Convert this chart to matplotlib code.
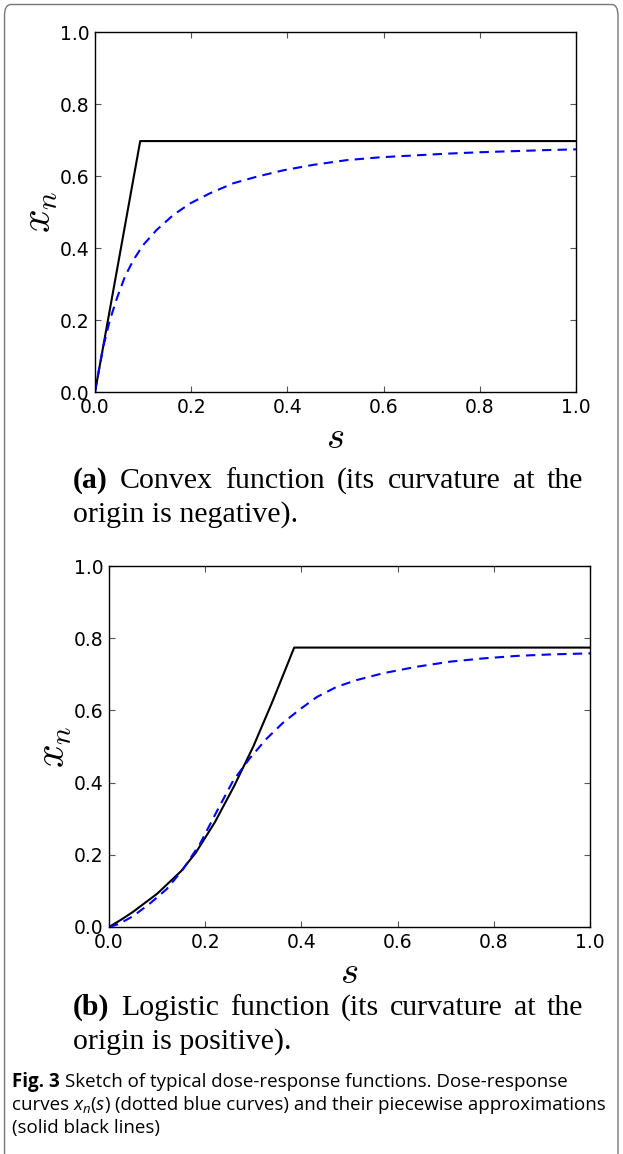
import matplotlib
matplotlib.use("Agg")
import matplotlib.pyplot as plt
from matplotlib.patches import FancyBboxPatch

W, H = 623, 1154

# (a) convex dose-response curve and its piecewise approximation
a_s_curve = [0, 0.008, 0.017, 0.031, 0.046, 0.062, 0.080, 0.100, 0.128, 0.163, 0.198,
             0.239, 0.288, 0.336, 0.392, 0.454, 0.523, 0.593, 0.662, 0.731, 0.800,
             0.870, 0.939, 1.0]
a_x_curve = [0, 0.060, 0.125, 0.200, 0.262, 0.320, 0.367, 0.408, 0.450, 0.492, 0.524,
             0.552, 0.580, 0.598, 0.616, 0.631, 0.644, 0.652, 0.657, 0.662, 0.666,
             0.669, 0.672, 0.674]
a_s_line = [0, 0.094, 1.0]
a_x_line = [0, 0.697, 0.697]

# (b) logistic dose-response curve and its piecewise approximation
b_s_curve = [0, 0.020, 0.050, 0.085, 0.120, 0.154, 0.189, 0.224, 0.258, 0.293, 0.328,
             0.362, 0.397, 0.432, 0.473, 0.515, 0.570, 0.640, 0.709, 0.778, 0.848,
             0.917, 1.0]
b_x_curve = [0, 0.008, 0.030, 0.065, 0.105, 0.160, 0.230, 0.320, 0.405, 0.468, 0.522,
             0.566, 0.603, 0.637, 0.665, 0.684, 0.703, 0.721, 0.735, 0.744, 0.751,
             0.755, 0.758]
b_s_line = [0, 0.025, 0.050, 0.100, 0.150, 0.180, 0.220, 0.260, 0.300, 0.340, 0.385, 1.0]
b_x_line = [0, 0.020, 0.042, 0.092, 0.155, 0.205, 0.290, 0.390, 0.500, 0.625, 0.774, 0.774]

ticks = [0.0, 0.2, 0.4, 0.6, 0.8, 1.0]
tick_labels = ["0.0", "0.2", "0.4", "0.6", "0.8", "1.0"]

cap_a = [("(a)", "bold"), ("Convex", "normal"), ("function", "normal"), ("(its", "normal"),
         ("curvature", "normal"), ("at", "normal"), ("the", "normal")]
cap_a2 = "origin is negative)."
cap_b = [("(b)", "bold"), ("Logistic", "normal"), ("function", "normal"), ("(its", "normal"),
         ("curvature", "normal"), ("at", "normal"), ("the", "normal")]
cap_b2 = "origin is positive)."

plt.rcParams["mathtext.fontset"] = "cm"

fig = plt.figure(figsize=(W / 100, H / 100), dpi=100)
r = fig.canvas.get_renderer()


def px_axes(left, top, right, bottom):
    return fig.add_axes([left / W, 1 - bottom / H, (right - left) / W, (bottom - top) / H])


def draw_panel(ax, s_curve, x_curve, s_line, x_line):
    ax.plot(s_line, x_line, color="black", lw=1.5)
    ax.plot(s_curve, x_curve, color="blue", lw=1.5, linestyle=(0, (4.5, 3)))
    ax.set_xlim(0, 1)
    ax.set_ylim(0, 1)
    ax.set_xticks(ticks)
    ax.set_xticklabels(tick_labels)
    ax.set_yticks(ticks)
    ax.set_yticklabels(tick_labels)
    ax.tick_params(direction="in", top=True, right=True, length=4, width=0.8,
                   color="#555555", labelsize=13.5, pad=4)
    for sp in ax.spines.values():
        sp.set_linewidth(1.0)
    ax.set_ylabel("$x_n$", fontsize=30, labelpad=0)
    ax.set_xlabel("$s$", fontsize=28, labelpad=1)


ax1 = px_axes(95, 32, 576, 392)
draw_panel(ax1, a_s_curve, a_x_curve, a_s_line, a_x_line)
ax2 = px_axes(109, 566, 590, 927)
draw_panel(ax2, b_s_curve, b_x_curve, b_s_line, b_x_line)

serif = "Liberation Serif"


def justify(words, x0, x1, y, size):
    ts = [fig.text(0, 1 - y / H, w, fontsize=size, family=serif, weight=wt, va="baseline")
          for w, wt in words]
    widths = [t.get_window_extent(r).width for t in ts]
    gap = (x1 - x0 - sum(widths)) / (len(ts) - 1)
    x = x0
    for t, w in zip(ts, widths):
        t.set_x(x / W)
        x += w + gap


justify(cap_a, 73, 583, 488, 21.5)
fig.text(73 / W, 1 - 522 / H, cap_a2, fontsize=21.5, family=serif, va="baseline")
justify(cap_b, 73, 583, 1015, 21.5)
fig.text(73 / W, 1 - 1049 / H, cap_b2, fontsize=21.5, family=serif, va="baseline")

# figure caption, sans serif, with bold "Fig. 3" and italic x_n(s)
sans = "Open Sans"
fs = 13.5


def width_of(txt, **kw):
    t = fig.text(0, 0, txt, **kw)
    w = t.get_window_extent(r).width
    t.remove()
    return w


space = width_of("a a", family=sans, fontsize=fs) - width_of("aa", family=sans, fontsize=fs)


def run(pieces, x, y):
    for txt, kw, sp, dy in pieces:
        if sp:
            x += space
        props = {"family": sans, "fontsize": fs}
        props.update(kw)
        t = fig.text(x / W, 1 - (y + dy) / H, txt, va="baseline", **props)
        x += t.get_window_extent(r).width


run([("Fig. 3", {"weight": "bold"}, False, 0),
     ("Sketch of typical dose-response functions. Dose-response", {}, True, 0)], 12, 1087)
run([("curves", {}, False, 0),
     ("x", {"style": "italic"}, True, 0),
     ("n", {"style": "italic", "fontsize": fs * 0.7}, False, 3),
     ("(", {}, False, 0),
     ("s", {"style": "italic"}, False, 0),
     (")", {}, False, 0),
     ("(dotted blue curves) and their piecewise approximations", {}, True, 0)], 12, 1110)
run([("(solid black lines)", {}, False, 0)], 12, 1133)

border = FancyBboxPatch((4.5 / W, -0.02), (618 - 4.5) / W, (H - 4.5) / H + 0.02,
                        boxstyle="round,pad=0,rounding_size=0.01",
                        transform=fig.transFigure, fill=False, edgecolor="#777777", lw=1.0,
                        clip_on=False)
fig.patches.append(border)

fig.savefig("out.png", dpi=100)
